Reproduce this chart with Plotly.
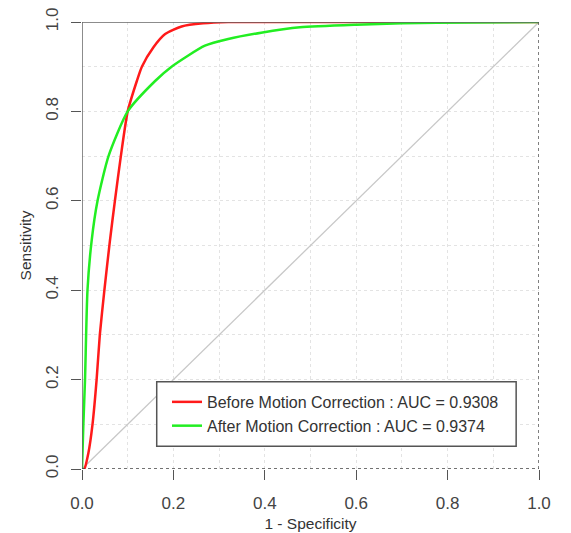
import plotly.graph_objects as go

# ROC curve readings (x = 1 - Specificity, y = Sensitivity)
before_fpr = [0, 0.005, 0.014, 0.023, 0.032, 0.039, 0.049, 0.061, 0.072, 0.085,
              0.100, 0.120, 0.131, 0.156, 0.182, 0.218, 0.265, 0.32, 0.4, 0.6, 0.8, 1.0]
before_tpr = [0, 0, 0.036, 0.10, 0.20, 0.30, 0.40, 0.51, 0.60, 0.70,
              0.80, 0.868, 0.90, 0.943, 0.973, 0.990, 0.997, 1.0, 1.0, 1.0, 1.0, 1.0]

after_fpr = [0, 0.003, 0.0066, 0.012, 0.021, 0.034, 0.058, 0.100, 0.160, 0.196,
             0.269, 0.32, 0.392, 0.477, 0.6, 0.7, 0.85, 1.0]
after_tpr = [0, 0.10, 0.20, 0.40, 0.51, 0.60, 0.70, 0.80, 0.868, 0.90,
             0.947, 0.962, 0.976, 0.988, 0.994, 0.997, 0.999, 1.0]

diag = [0, 1]
names = ["Before Motion Correction : AUC = 0.9308",
         "After Motion Correction : AUC = 0.9374"]
colors = ["#ff1a1a", "#22ee22"]
tickvals = [0, 0.2, 0.4, 0.6, 0.8, 1.0]
ticktext = ["0.0", "0.2", "0.4", "0.6", "0.8", "1.0"]

FONT = "Liberation Sans, Arial, sans-serif"

fig = go.Figure()
fig.add_trace(go.Scatter(x=diag, y=diag, mode="lines",
                         line=dict(color="#c8c8c8", width=1.3),
                         showlegend=False, hoverinfo="skip"))
fig.add_trace(go.Scatter(x=before_fpr, y=before_tpr, mode="lines", name=names[0],
                         line=dict(color=colors[0], width=2.5, shape="spline", smoothing=0.6),
                         cliponaxis=False))
fig.add_trace(go.Scatter(x=after_fpr, y=after_tpr, mode="lines", name=names[1],
                         line=dict(color=colors[1], width=2.5, shape="spline", smoothing=0.6),
                         cliponaxis=False))

frame = "#666666"
shapes = [
    dict(type="line", xref="x", yref="y", x0=0, x1=1, y0=1, y1=1,
         line=dict(color=frame, width=1.5)),
    dict(type="line", xref="x", yref="y", x0=0, x1=0, y0=0, y1=1,
         line=dict(color=frame, width=1.5)),
    dict(type="line", xref="x", yref="y", x0=0, x1=1, y0=0, y1=0,
         line=dict(color="#444444", width=1.5, dash="dot")),
    dict(type="line", xref="x", yref="y", x0=1, x1=1, y0=0, y1=1,
         line=dict(color="#555555", width=1.5, dash="dot")),
    dict(type="rect", xref="x", yref="y", x0=0.1635, x1=0.950, y0=0.051, y1=0.195,
         fillcolor="white", line=dict(color="#555555", width=1.5), layer="above"),
]

axis_common = dict(
    range=[0, 1], tickmode="array", tickvals=tickvals, ticktext=ticktext,
    ticks="outside", ticklen=10, tickwidth=1.3, tickcolor="#555555",
    showline=False, zeroline=False, automargin=False, ticklabeloverflow="allow",
    showgrid=True, gridcolor="#e3e3e3", griddash="dot", gridwidth=1,
    minor=dict(dtick=0.1, showgrid=True, gridcolor="#e3e3e3", griddash="dot", ticks=""),
    tickfont=dict(family=FONT, size=17, color="#444444"),
)

fig.update_layout(
    width=571, height=533,
    margin=dict(l=74, r=40, t=14, b=72),
    paper_bgcolor="white", plot_bgcolor="white",
    font=dict(family=FONT, color="#333333"),
    xaxis=dict(**axis_common, ticklabelstandoff=9,
               title=dict(text="1 - Specificity", font=dict(family=FONT, size=15.5, color="#333333"),
                          standoff=5)),
    yaxis=dict(**axis_common, tickangle=-90, ticklabelstandoff=6,
               title=dict(text="Sensitivity", font=dict(family=FONT, size=15.5, color="#333333"),
                          standoff=7)),
    shapes=shapes,
    legend=dict(x=0.186, xanchor="left", y=0.188, yanchor="top",
                bgcolor="rgba(0,0,0,0)", borderwidth=0,
                font=dict(family=FONT, size=16, color="#333333"),
                itemwidth=30, tracegroupgap=0),
    showlegend=True,
)

fig.write_html("out.html")
